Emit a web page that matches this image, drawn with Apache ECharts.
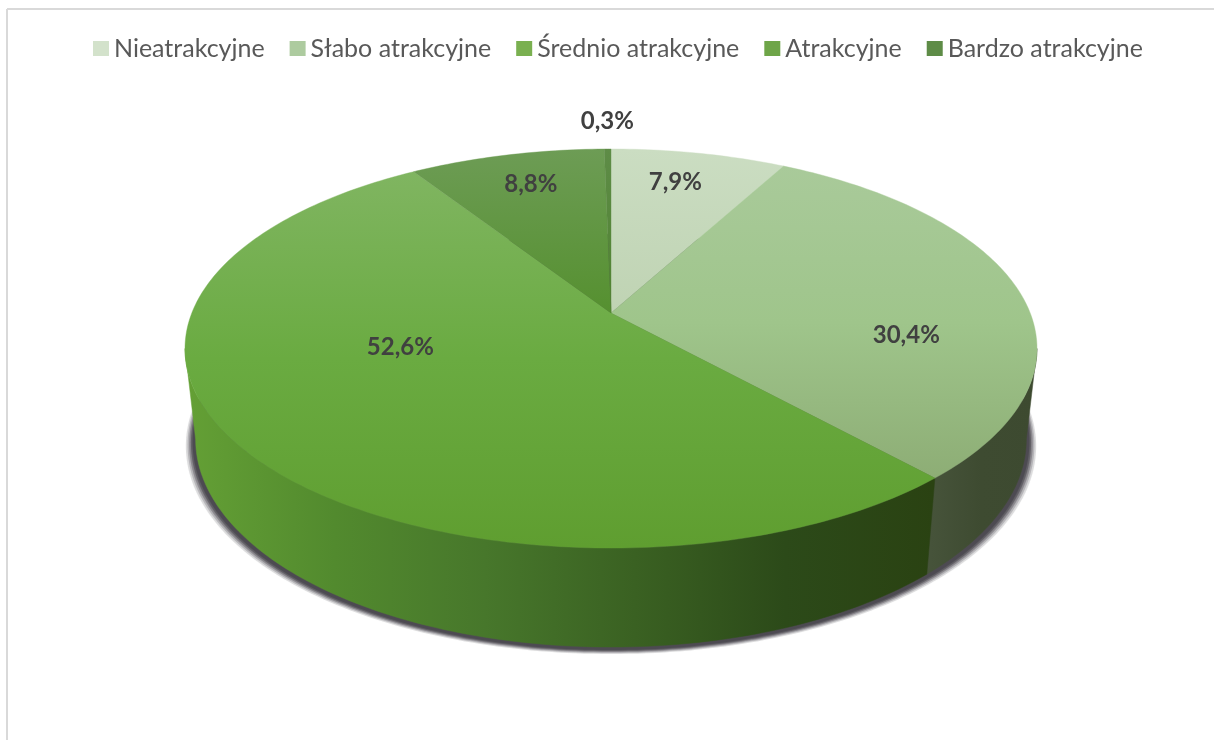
<!DOCTYPE html>
<html><head><meta charset="utf-8">
<style>html,body{margin:0;padding:0;background:#fff}#c{width:1214px;height:740px}</style>
<script src="https://cdn.jsdelivr.net/npm/echarts@6/dist/echarts.min.js"></script>
</head><body><div id="c"></div>
<script>
const categories = ['Nieatrakcyjne','Słabo atrakcyjne','Średnio atrakcyjne','Atrakcyjne','Bardzo atrakcyjne'];
const values = [7.9,30.4,52.6,8.8,0.3];
const valueLabels = ['7,9%','30,4%','52,6%','8,8%','0,3%'];

// Look: perspective disc
const CX=611, K=419.2, C=0.178, A=-137.5, B=313;
const WALL_DROP=96, WALL_STRETCH=0.042, WALL_PINCH=0.975;
const FRONT_FROM=0.2785, FRONT_TO=0.7215;
const total = values.reduce((a,b)=>a+b,0);
const top2d = (frac,r=1)=>{
  const t=frac*2*Math.PI, u=r*Math.sin(t), v=r*Math.cos(t), w=1+C*v;
  return [CX+K*u/w,(A*v+B)/w];
};
const low2d = (frac,pinch=WALL_PINCH,extra=0)=>{
  const p=top2d(frac);
  return [CX+(p[0]-CX)*pinch, p[1]+WALL_DROP+(p[1]-477)*WALL_STRETCH+extra];
};
const arc=(f0,f1,fn)=>{const n=Math.max(4,Math.ceil((f1-f0)*360));const o=[];for(let i=0;i<=n;i++)o.push(fn(f0+(f1-f0)*i/n));return o;};
const G=echarts.graphic.LinearGradient;
const vg=(y0,y1,stops)=>new G(0,y0,0,y1,stops.map((c,i)=>({offset:i/(stops.length-1),color:c})),true);
const hg=(x0,x1,stops)=>new G(x0,0,x1,0,stops.map((c,i)=>({offset:i/(stops.length-1),color:c})),true);
const topFills=[
  vg(149,315,['#cbddc2','#bfd3b3']),
  vg(165,480,['#a9ca9a','#9fc58b','#8dad75']),
  vg(170,548,['#80b561','#6aab41','#5f9e30']),
  vg(149,315,['#6d9c55','#55902f']),
  vg(149,315,['#5e8c47','#4f8230'])
];
const wallFills=[
  '#3d4a30',
  hg(925,1037,['#47543b','#3e4b31','#3d4a30']),
  hg(185,935,['#64a035','#528a2e','#47772b','#3a6122','#2c4a19','#2a4212']),
  '#3f6a1e','#3f6a1e'
];
const legendFills=[
  vg(41,56,['#d3e2cb','#b2cba6']),
  vg(41,56,['#adcb9f','#8fb47c']),
  vg(41,56,['#7ab050','#5f9e30']),
  vg(41,56,['#6ea548','#53902c']),
  vg(41,56,['#5e8c47','#3f7020'])
];
const labelFrac=[.75,.75,.75,.75,.75];
const labelShift=[[-4,-6],[-12,39],[61,-62],[1,-6],[-1,-64]];
const LABEL_FONT='bold 24px Lato';
const shadowLayers=[[0.998,7,.16],[0.994,6,.22],[0.990,5,.32],[0.986,4,.5],[0.982,3,.8]];

let cum=0;
const starts=values.map(v=>{const s=cum;cum+=v;return s/total;});

const sliceSeries=categories.map((name,i)=>({
  type:'custom',name,coordinateSystem:'none',z:2,silent:true,
  itemStyle:{color:'#6aab41'},
  data:[values[i]],
  renderItem:(params,api)=>{
    const f0=starts[i], f1=f0+api.value(0)/total;
    const up=arc(f0,f1,f=>top2d(f));
    const m=top2d((f0+f1)/2,labelFrac[i]);
    const children=[
      {type:'polygon',z2:2,shape:{points:[top2d(0,0)].concat(up)},style:{fill:topFills[i],stroke:topFills[i],lineWidth:.4}},
      {type:'text',z2:3,style:{text:valueLabels[i],x:m[0]+labelShift[i][0],y:m[1]+labelShift[i][1],
        align:'center',verticalAlign:'middle',font:LABEL_FONT,fill:'#404040'}}
    ];
    const a=Math.max(f0,FRONT_FROM), b=Math.min(f1,FRONT_TO);
    if(b>a){
      const wu=arc(a,b,f=>top2d(f)), wd=arc(a,b,f=>low2d(f)).reverse();
      children.unshift({type:'polygon',z2:1,shape:{points:wu.concat(wd)},style:{fill:wallFills[i],stroke:wallFills[i],lineWidth:.5}});
    }
    return {type:'group',children};
  }
}));

const shadowSeries={
  type:'custom',coordinateSystem:'none',z:1,silent:true,data:[total],
  renderItem:()=>({type:'group',children:shadowLayers.map(([p,e,a])=>({
    type:'polygon',shape:{points:arc(0,1,f=>low2d(f,p,e))},
    style:{fill:'rgba(75,73,80,'+a+')',shadowBlur:2,shadowColor:'rgba(75,73,80,'+a+')'}}))})
};

const chart=echarts.init(document.getElementById('c'),null,{renderer:'canvas'});
chart.setOption({
  backgroundColor:'#fff',animation:false,
  legend:{
    left:93,top:36,padding:0,icon:'rect',itemWidth:16,itemHeight:15,itemGap:25,
    selectedMode:false,
    textStyle:{fontFamily:'Lato',fontSize:25,color:'#595959'},
    data:categories.map((name,i)=>({name,itemStyle:{color:legendFills[i]}}))
  },
  graphic:[
    {type:'line',shape:{x1:7,y1:9,x2:1214,y2:9},style:{stroke:'#d9d9d9',lineWidth:2}},
    {type:'line',shape:{x1:7,y1:9,x2:7,y2:740},style:{stroke:'#d9d9d9',lineWidth:2}}
  ],
  series:[shadowSeries].concat(sliceSeries)
});
</script></body></html>
